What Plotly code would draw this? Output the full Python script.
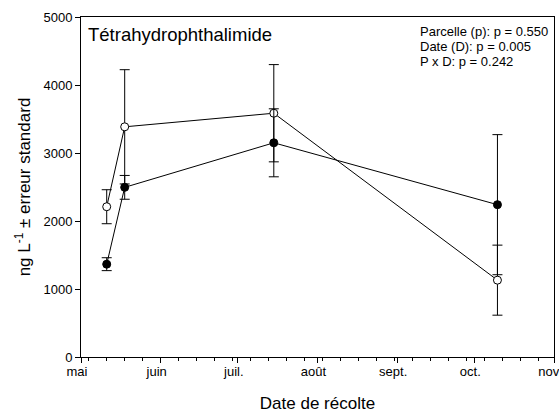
import plotly.graph_objects as go

dates = ["2010-05-11", "2010-05-18", "2010-07-15", "2010-10-10"]
filled_vals = [1365, 2495, 3150, 2240]
filled_err = [95, 175, 500, 1030]
open_vals = [2210, 3385, 3585, 1130]
open_err = [250, 840, 715, 515]

month_ticks = ["2010-05-01", "2010-06-01", "2010-07-01", "2010-08-01",
               "2010-09-01", "2010-10-01", "2010-11-01"]
month_labels = ["mai", "juin", "juil.", "août", "sept.", "oct.", "nov."]
y_ticks = [0, 1000, 2000, 3000, 4000, 5000]

title_text = "Tétrahydrophthalimide"
stats_lines = ["Parcelle (p): p = 0.550", "Date (D): p = 0.005", "P x D: p = 0.242"]

FONT = "Liberation Sans, Arial, sans-serif"

fig = go.Figure()
fig.add_trace(go.Scatter(
    x=dates, y=open_vals, mode="lines+markers",
    line=dict(color="black", width=1),
    marker=dict(symbol="circle", size=8, color="white", line=dict(color="black", width=1)),
    error_y=dict(type="data", array=open_err, color="black", thickness=1, width=5),
    showlegend=False,
))
fig.add_trace(go.Scatter(
    x=dates, y=filled_vals, mode="lines+markers",
    line=dict(color="black", width=1),
    marker=dict(symbol="circle", size=8, color="black", line=dict(color="black", width=1)),
    error_y=dict(type="data", array=filled_err, color="black", thickness=1, width=5),
    showlegend=False,
))

fig.add_annotation(x=0.0106, y=0.949, xref="paper", yref="paper", text=title_text,
                   showarrow=False, xanchor="left", yanchor="middle",
                   font=dict(family=FONT, size=18.5, color="black"))
for line, yy in zip(stats_lines, [0.957, 0.913, 0.869]):
    fig.add_annotation(x=0.7125, y=yy, xref="paper", yref="paper", text=line,
                       showarrow=False, xanchor="left", yanchor="middle",
                       font=dict(family=FONT, size=13, color="black"))

fig.update_layout(
    width=559, height=413,
    margin=dict(l=81, r=5, t=17, b=56),
    paper_bgcolor="white", plot_bgcolor="white",
    font=dict(family=FONT, size=13, color="black"),
    xaxis=dict(
        type="date", range=["2010-05-01", "2010-11-01"],
        tickmode="array", tickvals=month_ticks, ticktext=month_labels,
        ticks="outside", ticklen=5, tickwidth=1, tickcolor="black",
        ticklabelshift=-4, ticklabelstandoff=-3, ticklabeloverflow="allow",
        minor=dict(tickmode="linear", tick0="2010-05-04", dtick=7 * 86400000,
                   ticks="outside", ticklen=3, tickwidth=1, tickcolor="black", showgrid=False),
        showline=True, linecolor="black", linewidth=1, mirror=True,
        showgrid=False, zeroline=False, automargin=False,
        title=dict(text="Date de récolte", font=dict(size=17), standoff=19),
        tickfont=dict(size=13),
    ),
    yaxis=dict(
        range=[0, 5000], tickmode="array", tickvals=y_ticks,
        ticks="outside", ticklen=5, tickwidth=1, tickcolor="black",
        showline=True, linecolor="black", linewidth=1, mirror=True,
        showgrid=False, zeroline=False, automargin=False,
        title=dict(text="ng L<sup>-1</sup> ± erreur standard", font=dict(size=17), standoff=8),
        tickfont=dict(size=13),
    ),
)

fig.write_html("out.html", config={"displayModeBar": False},
               post_script="document.body.style.margin='0';document.body.style.overflow='hidden';")
